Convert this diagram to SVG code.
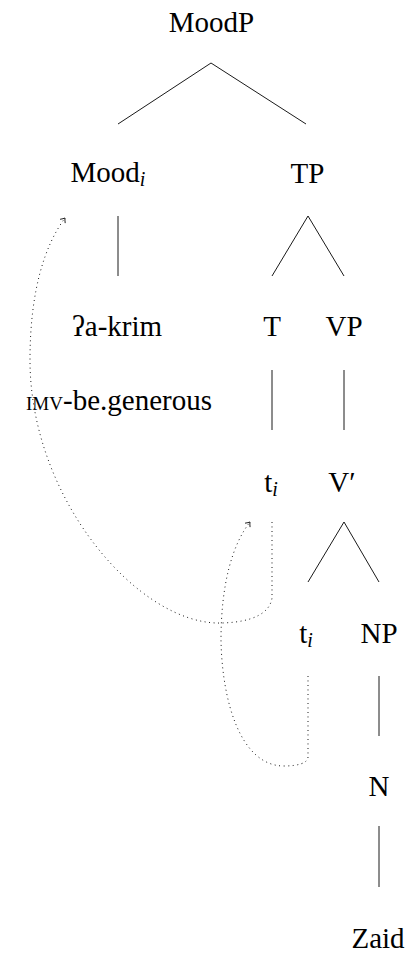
<svg xmlns="http://www.w3.org/2000/svg" width="408" height="958" viewBox="0 0 408 958">
<style>
text{font-family:"Liberation Serif","DejaVu Serif",serif;font-size:29px;fill:#000;text-anchor:middle}
.sub{font-style:italic;font-size:20px}
.sc{font-size:19px}
.edge{stroke:#000;stroke-width:0.9;fill:none}
.move{stroke:#000;stroke-width:1;fill:none;stroke-dasharray:0.9 3.6}
</style>
<defs>
<marker id="ah" markerWidth="10" markerHeight="10" refX="0" refY="0" viewBox="-6 -5 8 10" orient="auto" markerUnits="userSpaceOnUse">
<path d="M-4,-3.2 Q-1.5,-0.8 0,0 Q-1.5,0.8 -4,3.2" fill="none" stroke="#000" stroke-width="0.8"/>
</marker>
</defs>
<g id="connectors">
<line class="edge" x1="211" y1="63" x2="118" y2="124"/>
<line class="edge" x1="211" y1="63" x2="306" y2="124"/>
<line class="edge" x1="118" y1="216" x2="118" y2="276"/>
<line class="edge" x1="308" y1="216" x2="272" y2="276"/>
<line class="edge" x1="308" y1="216" x2="344" y2="276"/>
<line class="edge" x1="272" y1="370" x2="272" y2="430"/>
<line class="edge" x1="344" y1="370" x2="344" y2="430"/>
<line class="edge" x1="344" y1="522" x2="308" y2="582"/>
<line class="edge" x1="344" y1="522" x2="379" y2="582"/>
<line class="edge" x1="379" y1="676" x2="379" y2="736"/>
<line class="edge" x1="379" y1="826" x2="379" y2="887"/>
<path class="move" marker-end="url(#ah)" d="M272,522 L272,598 C270,612 255,622 222,623 C140,626 30,500 30,360 C30,290 45,245 65,218"/>
<path class="move" marker-end="url(#ah)" d="M308,676 L308,757 C308,763 298,766 284,766 C240,766 222,700 221,640 C221,585 232,545 250,522"/>
</g>
<g id="MoodP"><text x="211.5" y="32">MoodP</text></g>
<g id="Mood"><text x="108" y="182">Mood<tspan class="sub" dy="4">i</tspan></text></g>
<g id="TP"><text x="307.5" y="183">TP</text></g>
<g id="akrim"><text x="117" y="336">ʔa-krim</text></g>
<g id="gloss"><text x="119" y="410"><tspan class="sc">IMV</tspan>-be.generous</text></g>
<g id="T"><text x="272" y="336">T</text></g>
<g id="VP"><text x="344" y="336">VP</text></g>
<g id="t1"><text x="271" y="492">t<tspan class="sub" dy="4">i</tspan></text></g>
<g id="Vbar"><text x="342" y="492">V′</text></g>
<g id="t2"><text x="306" y="643">t<tspan class="sub" dy="4">i</tspan></text></g>
<g id="NP"><text x="379" y="643">NP</text></g>
<g id="N"><text x="379" y="796">N</text></g>
<g id="Zaid"><text x="378" y="948">Zaid</text></g>
</svg>
